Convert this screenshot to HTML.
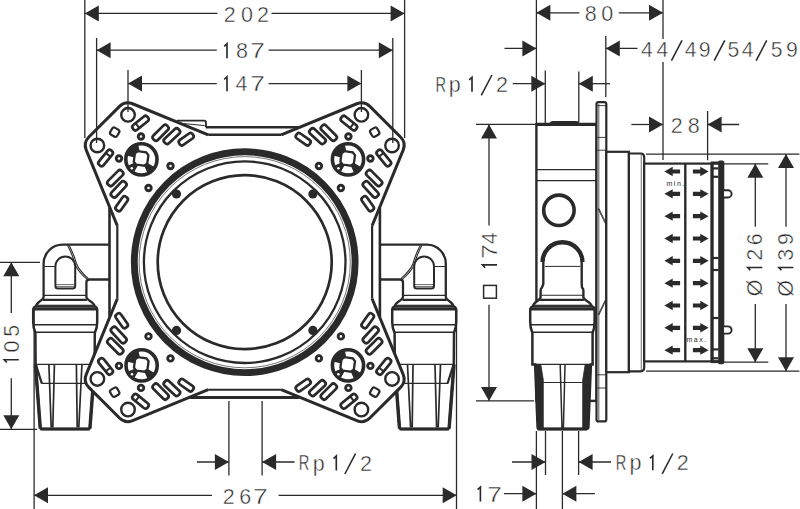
<!DOCTYPE html>
<html><head><meta charset="utf-8"><style>
html,body{margin:0;padding:0;background:#fff;width:800px;height:509px;overflow:hidden}
svg{display:block}
text{font-family:"Liberation Sans",sans-serif}
</style></head><body>
<svg width="800" height="509" viewBox="0 0 800 509" font-family="Liberation Sans, sans-serif" fill="#222">
<rect width="800" height="509" fill="#fff"/>
<g transform=""><path d="M110 244.7 H62.5 A19 19 0 0 0 43.6 263.6 V297 C43.6 300.5 36.5 301.5 36 306.2 L35.6 308.8 H95 L94.6 306.2 C94 301.5 86.4 300.5 86.4 297 V282.5 Q86.4 279.5 89.4 279.5 H110" fill="#fff" stroke="#2a2a2a" stroke-width="2.3"/><path d="M55.4 286 V266.4 A9.9 9.9 0 0 1 75.2 266.4 V286 Q75.2 288.6 72.6 288.6 H58 Q55.4 288.6 55.4 286 Z" fill="#fff" stroke="#2a2a2a" stroke-width="2"/><path d="M56 284.6 H74.6 M56 286.6 H74.6" stroke="#2a2a2a" stroke-width="0.7"/><line x1="44.5" y1="266.5" x2="55.4" y2="266.5" stroke="#2a2a2a" stroke-width="1"/><path d="M67.6 245.4 C71 252 73.5 258 74.8 263.6 C77 270 82 275 87.4 279.6" stroke="#2a2a2a" stroke-width="1.1" fill="none"/><path d="M69.2 245.4 C72.6 252 75 258 76.3 263.2 C78.5 269 83 273.8 88.4 278.6" stroke="#2a2a2a" stroke-width="1.1" fill="none"/><line x1="43.7" y1="295.4" x2="85.9" y2="295.4" stroke="#2a2a2a" stroke-width="1.1"/></g><g transform="translate(0 0)"><path d="M35.4 306.6 Q33.2 307.2 33.2 310.2 V322 Q33.2 328 35.4 333 L35.6 364.4 L40.2 427.4 Q40.4 429 42.4 429 H87.8 Q89.8 429 90 427.4 L94.6 364.4 L94.8 333 Q97.2 328 97.2 322 V310.2 Q97.2 307.2 95 306.6 Z" fill="#fff" stroke="#2a2a2a" stroke-width="2.5"/><line x1="42.7" y1="299.8" x2="86.9" y2="299.8" stroke="#2a2a2a" stroke-width="2.2"/><line x1="37" y1="305.2" x2="93" y2="305.2" stroke="#2a2a2a" stroke-width="1"/><line x1="33.6" y1="309.2" x2="96.8" y2="309.2" stroke="#2a2a2a" stroke-width="2.8"/><line x1="33.5" y1="324.8" x2="96.9" y2="324.8" stroke="#2a2a2a" stroke-width="1.6"/><line x1="35" y1="332.2" x2="95.2" y2="332.2" stroke="#2a2a2a" stroke-width="1.6"/><line x1="35.4" y1="364.4" x2="94.8" y2="364.4" stroke="#2a2a2a" stroke-width="1.3"/><path d="M35.4 364.4 L40.3 428.5" stroke="#2a2a2a" stroke-width="3.4" fill="none"/><path d="M94.8 364.4 L89.9 428.5" stroke="#2a2a2a" stroke-width="3.4" fill="none"/><path d="M35.8 364.4 L41.8 383.3 M94.4 364.4 L88.4 383.3" stroke="#2a2a2a" stroke-width="2.2" fill="none"/><line x1="41.4" y1="383.3" x2="88" y2="383.3" stroke="#2a2a2a" stroke-width="1.2"/><path d="M48.9 365 L51.2 427.5 M54.4 365 L52.8 427.5" stroke="#2a2a2a" stroke-width="1.7" fill="none"/><path d="M76.4 365 L77.2 427.5 M81.9 365 L78.8 427.5" stroke="#2a2a2a" stroke-width="1.7" fill="none"/><line x1="40.4" y1="429" x2="89.8" y2="429" stroke="#2a2a2a" stroke-width="2.8"/></g>
<g transform="translate(489.4 0) scale(-1 1)"><path d="M110 244.7 H62.5 A19 19 0 0 0 43.6 263.6 V297 C43.6 300.5 36.5 301.5 36 306.2 L35.6 308.8 H95 L94.6 306.2 C94 301.5 86.4 300.5 86.4 297 V282.5 Q86.4 279.5 89.4 279.5 H110" fill="#fff" stroke="#2a2a2a" stroke-width="2.3"/><path d="M55.4 286 V266.4 A9.9 9.9 0 0 1 75.2 266.4 V286 Q75.2 288.6 72.6 288.6 H58 Q55.4 288.6 55.4 286 Z" fill="#fff" stroke="#2a2a2a" stroke-width="2"/><path d="M56 284.6 H74.6 M56 286.6 H74.6" stroke="#2a2a2a" stroke-width="0.7"/><line x1="44.5" y1="266.5" x2="55.4" y2="266.5" stroke="#2a2a2a" stroke-width="1"/><path d="M67.6 245.4 C71 252 73.5 258 74.8 263.6 C77 270 82 275 87.4 279.6" stroke="#2a2a2a" stroke-width="1.1" fill="none"/><path d="M69.2 245.4 C72.6 252 75 258 76.3 263.2 C78.5 269 83 273.8 88.4 278.6" stroke="#2a2a2a" stroke-width="1.1" fill="none"/><line x1="43.7" y1="295.4" x2="85.9" y2="295.4" stroke="#2a2a2a" stroke-width="1.1"/></g><g transform="translate(489.4 0) scale(-1 1)"><path d="M35.4 306.6 Q33.2 307.2 33.2 310.2 V322 Q33.2 328 35.4 333 L35.6 364.4 L40.2 427.4 Q40.4 429 42.4 429 H87.8 Q89.8 429 90 427.4 L94.6 364.4 L94.8 333 Q97.2 328 97.2 322 V310.2 Q97.2 307.2 95 306.6 Z" fill="#fff" stroke="#2a2a2a" stroke-width="2.5"/><line x1="42.7" y1="299.8" x2="86.9" y2="299.8" stroke="#2a2a2a" stroke-width="2.2"/><line x1="37" y1="305.2" x2="93" y2="305.2" stroke="#2a2a2a" stroke-width="1"/><line x1="33.6" y1="309.2" x2="96.8" y2="309.2" stroke="#2a2a2a" stroke-width="2.8"/><line x1="33.5" y1="324.8" x2="96.9" y2="324.8" stroke="#2a2a2a" stroke-width="1.6"/><line x1="35" y1="332.2" x2="95.2" y2="332.2" stroke="#2a2a2a" stroke-width="1.6"/><line x1="35.4" y1="364.4" x2="94.8" y2="364.4" stroke="#2a2a2a" stroke-width="1.3"/><path d="M35.4 364.4 L40.3 428.5" stroke="#2a2a2a" stroke-width="3.4" fill="none"/><path d="M94.8 364.4 L89.9 428.5" stroke="#2a2a2a" stroke-width="3.4" fill="none"/><path d="M35.8 364.4 L41.8 383.3 M94.4 364.4 L88.4 383.3" stroke="#2a2a2a" stroke-width="2.2" fill="none"/><line x1="41.4" y1="383.3" x2="88" y2="383.3" stroke="#2a2a2a" stroke-width="1.2"/><path d="M48.9 365 L51.2 427.5 M54.4 365 L52.8 427.5" stroke="#2a2a2a" stroke-width="1.7" fill="none"/><path d="M76.4 365 L77.2 427.5 M81.9 365 L78.8 427.5" stroke="#2a2a2a" stroke-width="1.7" fill="none"/><line x1="40.4" y1="429" x2="89.8" y2="429" stroke="#2a2a2a" stroke-width="2.8"/></g>
<path d="M244.7 134.8 L208.2 134.8 L132.56 103.75 A12 12 0 0 0 119.51 106.36 L88.86 137.01 A12 12 0 0 0 86.25 150.06 L117.3 225.7 L117.3 262.2 L117.3 298.7 L86.25 374.34 A12 12 0 0 0 88.86 387.39 L119.51 418.04 A12 12 0 0 0 132.56 420.65 L208.2 389.6 L244.7 389.6 L281.2 389.6 L356.84 420.65 A12 12 0 0 0 369.89 418.04 L400.54 387.39 A12 12 0 0 0 403.15 374.34 L372.1 298.7 L372.1 262.2 L372.1 225.7 L403.15 150.06 A12 12 0 0 0 400.54 137.01 L369.89 106.36 A12 12 0 0 0 356.84 103.75 L281.2 134.8 L244.7 134.8 Z" fill="#fff" stroke="none"/>
<g transform="translate(244.7 262.2)"><path d="M-36.5 -127.4 L-112.14 -158.45 A12 12 0 0 0 -125.19 -155.84 L-155.84 -125.19 A12 12 0 0 0 -158.45 -112.14 L-127.4 -36.5" stroke="#2a2a2a" stroke-width="3" fill="none" stroke-linejoin="round"/><circle cx="-116.7" cy="-147.35" r="6.8" fill="none" stroke="#2a2a2a" stroke-width="2.4"/><circle cx="-147.35" cy="-116.7" r="6.8" fill="none" stroke="#2a2a2a" stroke-width="2.4"/><circle cx="-103.7" cy="-125.7" r="2.75" fill="none" stroke="#2a2a2a" stroke-width="2.9"/><circle cx="-125.7" cy="-103.7" r="2.75" fill="none" stroke="#2a2a2a" stroke-width="2.9"/><circle cx="-74.2" cy="-96.2" r="2.75" fill="none" stroke="#2a2a2a" stroke-width="2.9"/><circle cx="-96.2" cy="-74.2" r="2.75" fill="none" stroke="#2a2a2a" stroke-width="2.9"/><rect x="-134" y="-134" width="8" height="8" rx="2.2" transform="rotate(30 -130 -130)" fill="none" stroke="#2a2a2a" stroke-width="2.2"/><rect x="-113.6" y="-142.15" width="18.8" height="6.1" rx="2.6" transform="rotate(-39 -104.2 -139.1)" fill="none" stroke="#2a2a2a" stroke-width="2.7"/><rect x="-148.5" y="-107.25" width="18.8" height="6.1" rx="2.6" transform="rotate(129 -139.1 -104.2)" fill="none" stroke="#2a2a2a" stroke-width="2.7"/><rect x="-93.75" y="-132.55" width="19.3" height="6.3" rx="2.6" transform="rotate(-45 -84.1 -129.4)" fill="none" stroke="#2a2a2a" stroke-width="2.7"/><rect x="-139.05" y="-87.25" width="19.3" height="6.3" rx="2.6" transform="rotate(135 -129.4 -84.1)" fill="none" stroke="#2a2a2a" stroke-width="2.7"/><rect x="-82.45" y="-129.15" width="19.3" height="6.3" rx="2.6" transform="rotate(-43 -72.8 -126)" fill="none" stroke="#2a2a2a" stroke-width="2.7"/><rect x="-135.65" y="-75.95" width="19.3" height="6.3" rx="2.6" transform="rotate(133 -126 -72.8)" fill="none" stroke="#2a2a2a" stroke-width="2.7"/><rect x="-66.65" y="-126.05" width="16.3" height="6.1" rx="2.6" transform="rotate(-35 -58.5 -123)" fill="none" stroke="#2a2a2a" stroke-width="2.7"/><rect x="-131.15" y="-61.55" width="16.3" height="6.1" rx="2.6" transform="rotate(125 -123 -58.5)" fill="none" stroke="#2a2a2a" stroke-width="2.7"/><line x1="-108.2" y1="-142.4" x2="-108.2" y2="-135.8" transform="rotate(-38 -104.2 -139.1)" stroke="#2a2a2a" stroke-width="2"/><line x1="-143.1" y1="-107.5" x2="-143.1" y2="-100.9" transform="rotate(128 -139.1 -104.2)" stroke="#2a2a2a" stroke-width="2"/><circle cx="-68.2" cy="-68.2" r="4.6" fill="#2a2a2a"/></g>
<g transform="translate(244.7 262.2) scale(-1 1)"><path d="M-36.5 -127.4 L-112.14 -158.45 A12 12 0 0 0 -125.19 -155.84 L-155.84 -125.19 A12 12 0 0 0 -158.45 -112.14 L-127.4 -36.5" stroke="#2a2a2a" stroke-width="3" fill="none" stroke-linejoin="round"/><circle cx="-116.7" cy="-147.35" r="6.8" fill="none" stroke="#2a2a2a" stroke-width="2.4"/><circle cx="-147.35" cy="-116.7" r="6.8" fill="none" stroke="#2a2a2a" stroke-width="2.4"/><circle cx="-103.7" cy="-125.7" r="2.75" fill="none" stroke="#2a2a2a" stroke-width="2.9"/><circle cx="-125.7" cy="-103.7" r="2.75" fill="none" stroke="#2a2a2a" stroke-width="2.9"/><circle cx="-74.2" cy="-96.2" r="2.75" fill="none" stroke="#2a2a2a" stroke-width="2.9"/><circle cx="-96.2" cy="-74.2" r="2.75" fill="none" stroke="#2a2a2a" stroke-width="2.9"/><rect x="-134" y="-134" width="8" height="8" rx="2.2" transform="rotate(30 -130 -130)" fill="none" stroke="#2a2a2a" stroke-width="2.2"/><rect x="-113.6" y="-142.15" width="18.8" height="6.1" rx="2.6" transform="rotate(-39 -104.2 -139.1)" fill="none" stroke="#2a2a2a" stroke-width="2.7"/><rect x="-148.5" y="-107.25" width="18.8" height="6.1" rx="2.6" transform="rotate(129 -139.1 -104.2)" fill="none" stroke="#2a2a2a" stroke-width="2.7"/><rect x="-93.75" y="-132.55" width="19.3" height="6.3" rx="2.6" transform="rotate(-45 -84.1 -129.4)" fill="none" stroke="#2a2a2a" stroke-width="2.7"/><rect x="-139.05" y="-87.25" width="19.3" height="6.3" rx="2.6" transform="rotate(135 -129.4 -84.1)" fill="none" stroke="#2a2a2a" stroke-width="2.7"/><rect x="-82.45" y="-129.15" width="19.3" height="6.3" rx="2.6" transform="rotate(-43 -72.8 -126)" fill="none" stroke="#2a2a2a" stroke-width="2.7"/><rect x="-135.65" y="-75.95" width="19.3" height="6.3" rx="2.6" transform="rotate(133 -126 -72.8)" fill="none" stroke="#2a2a2a" stroke-width="2.7"/><rect x="-66.65" y="-126.05" width="16.3" height="6.1" rx="2.6" transform="rotate(-35 -58.5 -123)" fill="none" stroke="#2a2a2a" stroke-width="2.7"/><rect x="-131.15" y="-61.55" width="16.3" height="6.1" rx="2.6" transform="rotate(125 -123 -58.5)" fill="none" stroke="#2a2a2a" stroke-width="2.7"/><line x1="-108.2" y1="-142.4" x2="-108.2" y2="-135.8" transform="rotate(-38 -104.2 -139.1)" stroke="#2a2a2a" stroke-width="2"/><line x1="-143.1" y1="-107.5" x2="-143.1" y2="-100.9" transform="rotate(128 -139.1 -104.2)" stroke="#2a2a2a" stroke-width="2"/><circle cx="-68.2" cy="-68.2" r="4.6" fill="#2a2a2a"/></g>
<g transform="translate(244.7 262.2) scale(1 -1)"><path d="M-36.5 -127.4 L-112.14 -158.45 A12 12 0 0 0 -125.19 -155.84 L-155.84 -125.19 A12 12 0 0 0 -158.45 -112.14 L-127.4 -36.5" stroke="#2a2a2a" stroke-width="3" fill="none" stroke-linejoin="round"/><circle cx="-116.7" cy="-147.35" r="6.8" fill="none" stroke="#2a2a2a" stroke-width="2.4"/><circle cx="-147.35" cy="-116.7" r="6.8" fill="none" stroke="#2a2a2a" stroke-width="2.4"/><circle cx="-103.7" cy="-125.7" r="2.75" fill="none" stroke="#2a2a2a" stroke-width="2.9"/><circle cx="-125.7" cy="-103.7" r="2.75" fill="none" stroke="#2a2a2a" stroke-width="2.9"/><circle cx="-74.2" cy="-96.2" r="2.75" fill="none" stroke="#2a2a2a" stroke-width="2.9"/><circle cx="-96.2" cy="-74.2" r="2.75" fill="none" stroke="#2a2a2a" stroke-width="2.9"/><rect x="-134" y="-134" width="8" height="8" rx="2.2" transform="rotate(30 -130 -130)" fill="none" stroke="#2a2a2a" stroke-width="2.2"/><rect x="-113.6" y="-142.15" width="18.8" height="6.1" rx="2.6" transform="rotate(-39 -104.2 -139.1)" fill="none" stroke="#2a2a2a" stroke-width="2.7"/><rect x="-148.5" y="-107.25" width="18.8" height="6.1" rx="2.6" transform="rotate(129 -139.1 -104.2)" fill="none" stroke="#2a2a2a" stroke-width="2.7"/><rect x="-93.75" y="-132.55" width="19.3" height="6.3" rx="2.6" transform="rotate(-45 -84.1 -129.4)" fill="none" stroke="#2a2a2a" stroke-width="2.7"/><rect x="-139.05" y="-87.25" width="19.3" height="6.3" rx="2.6" transform="rotate(135 -129.4 -84.1)" fill="none" stroke="#2a2a2a" stroke-width="2.7"/><rect x="-82.45" y="-129.15" width="19.3" height="6.3" rx="2.6" transform="rotate(-43 -72.8 -126)" fill="none" stroke="#2a2a2a" stroke-width="2.7"/><rect x="-135.65" y="-75.95" width="19.3" height="6.3" rx="2.6" transform="rotate(133 -126 -72.8)" fill="none" stroke="#2a2a2a" stroke-width="2.7"/><rect x="-66.65" y="-126.05" width="16.3" height="6.1" rx="2.6" transform="rotate(-35 -58.5 -123)" fill="none" stroke="#2a2a2a" stroke-width="2.7"/><rect x="-131.15" y="-61.55" width="16.3" height="6.1" rx="2.6" transform="rotate(125 -123 -58.5)" fill="none" stroke="#2a2a2a" stroke-width="2.7"/><line x1="-108.2" y1="-142.4" x2="-108.2" y2="-135.8" transform="rotate(-38 -104.2 -139.1)" stroke="#2a2a2a" stroke-width="2"/><line x1="-143.1" y1="-107.5" x2="-143.1" y2="-100.9" transform="rotate(128 -139.1 -104.2)" stroke="#2a2a2a" stroke-width="2"/><circle cx="-68.2" cy="-68.2" r="4.6" fill="#2a2a2a"/></g>
<g transform="translate(244.7 262.2) scale(-1 -1)"><path d="M-36.5 -127.4 L-112.14 -158.45 A12 12 0 0 0 -125.19 -155.84 L-155.84 -125.19 A12 12 0 0 0 -158.45 -112.14 L-127.4 -36.5" stroke="#2a2a2a" stroke-width="3" fill="none" stroke-linejoin="round"/><circle cx="-116.7" cy="-147.35" r="6.8" fill="none" stroke="#2a2a2a" stroke-width="2.4"/><circle cx="-147.35" cy="-116.7" r="6.8" fill="none" stroke="#2a2a2a" stroke-width="2.4"/><circle cx="-103.7" cy="-125.7" r="2.75" fill="none" stroke="#2a2a2a" stroke-width="2.9"/><circle cx="-125.7" cy="-103.7" r="2.75" fill="none" stroke="#2a2a2a" stroke-width="2.9"/><circle cx="-74.2" cy="-96.2" r="2.75" fill="none" stroke="#2a2a2a" stroke-width="2.9"/><circle cx="-96.2" cy="-74.2" r="2.75" fill="none" stroke="#2a2a2a" stroke-width="2.9"/><rect x="-134" y="-134" width="8" height="8" rx="2.2" transform="rotate(30 -130 -130)" fill="none" stroke="#2a2a2a" stroke-width="2.2"/><rect x="-113.6" y="-142.15" width="18.8" height="6.1" rx="2.6" transform="rotate(-39 -104.2 -139.1)" fill="none" stroke="#2a2a2a" stroke-width="2.7"/><rect x="-148.5" y="-107.25" width="18.8" height="6.1" rx="2.6" transform="rotate(129 -139.1 -104.2)" fill="none" stroke="#2a2a2a" stroke-width="2.7"/><rect x="-93.75" y="-132.55" width="19.3" height="6.3" rx="2.6" transform="rotate(-45 -84.1 -129.4)" fill="none" stroke="#2a2a2a" stroke-width="2.7"/><rect x="-139.05" y="-87.25" width="19.3" height="6.3" rx="2.6" transform="rotate(135 -129.4 -84.1)" fill="none" stroke="#2a2a2a" stroke-width="2.7"/><rect x="-82.45" y="-129.15" width="19.3" height="6.3" rx="2.6" transform="rotate(-43 -72.8 -126)" fill="none" stroke="#2a2a2a" stroke-width="2.7"/><rect x="-135.65" y="-75.95" width="19.3" height="6.3" rx="2.6" transform="rotate(133 -126 -72.8)" fill="none" stroke="#2a2a2a" stroke-width="2.7"/><rect x="-66.65" y="-126.05" width="16.3" height="6.1" rx="2.6" transform="rotate(-35 -58.5 -123)" fill="none" stroke="#2a2a2a" stroke-width="2.7"/><rect x="-131.15" y="-61.55" width="16.3" height="6.1" rx="2.6" transform="rotate(125 -123 -58.5)" fill="none" stroke="#2a2a2a" stroke-width="2.7"/><line x1="-108.2" y1="-142.4" x2="-108.2" y2="-135.8" transform="rotate(-38 -104.2 -139.1)" stroke="#2a2a2a" stroke-width="2"/><line x1="-143.1" y1="-107.5" x2="-143.1" y2="-100.9" transform="rotate(128 -139.1 -104.2)" stroke="#2a2a2a" stroke-width="2"/><circle cx="-68.2" cy="-68.2" r="4.6" fill="#2a2a2a"/></g>
<line x1="208.2" y1="134.8" x2="281.2" y2="134.8" stroke="#2a2a2a" stroke-width="2.4"/>
<line x1="208.2" y1="389.7" x2="281.2" y2="389.7" stroke="#2a2a2a" stroke-width="2"/>
<line x1="117.3" y1="225.7" x2="117.3" y2="298.7" stroke="#2a2a2a" stroke-width="2.2"/>
<line x1="372.1" y1="225.7" x2="372.1" y2="298.7" stroke="#2a2a2a" stroke-width="2.2"/>
<line x1="205.9" y1="127.3" x2="299.2" y2="127.3" stroke="#2a2a2a" stroke-width="2.5"/>
<line x1="190.2" y1="397.5" x2="299.2" y2="397.5" stroke="#2a2a2a" stroke-width="2.9"/>
<line x1="109.5" y1="207.7" x2="109.5" y2="316.7" stroke="#2a2a2a" stroke-width="2.6"/>
<line x1="379.9" y1="207.7" x2="379.9" y2="316.7" stroke="#2a2a2a" stroke-width="2.6"/>
<path d="M177 120.6 H204.3 Q205.9 120.6 205.9 122.4 V127.3" stroke="#2a2a2a" stroke-width="1.9" fill="none"/>
<path d="M184 123.6 L204.6 125.6" stroke="#2a2a2a" stroke-width="1" fill="none"/>
<g transform="translate(141.4 159.4)"><circle cx="0" cy="0" r="15.6" fill="#fff" stroke="#2a2a2a" stroke-width="3.6"/><path d="M-14.01 -3.75 A14.5 14.5 0 0 1 -3.01 -14.18 L-1.04 -4.89 A5 5 0 0 0 -4.83 -1.29 Z" fill="#2a2a2a"/><path d="M-7.25 12.56 A14.5 14.5 0 0 1 -13.14 6.13 L-4.53 2.11 A5 5 0 0 0 -2.5 4.33 Z" fill="#2a2a2a"/><path d="M12.56 7.25 A14.5 14.5 0 0 1 5.9 13.25 L2.03 4.57 A5 5 0 0 0 4.33 2.5 Z" fill="#2a2a2a"/><g transform="translate(-0.3 -1) rotate(8)"><path d="M-6.8 -4.2 L-4.2 -6.8 H4.2 L6.8 -4.2 V4.2 L4.2 6.8 H-4.2 L-6.8 4.2 Z" fill="#fff" stroke="#2a2a2a" stroke-width="2.3"/></g><circle cx="-9.6" cy="8.8" r="1.3" fill="#fff"/></g>
<g transform="translate(348 159.4)"><circle cx="0" cy="0" r="15.6" fill="#fff" stroke="#2a2a2a" stroke-width="3.6"/><path d="M-14.01 -3.75 A14.5 14.5 0 0 1 -3.01 -14.18 L-1.04 -4.89 A5 5 0 0 0 -4.83 -1.29 Z" fill="#2a2a2a"/><path d="M-7.25 12.56 A14.5 14.5 0 0 1 -13.14 6.13 L-4.53 2.11 A5 5 0 0 0 -2.5 4.33 Z" fill="#2a2a2a"/><path d="M12.56 7.25 A14.5 14.5 0 0 1 5.9 13.25 L2.03 4.57 A5 5 0 0 0 4.33 2.5 Z" fill="#2a2a2a"/><g transform="translate(-0.3 -1) rotate(8)"><path d="M-6.8 -4.2 L-4.2 -6.8 H4.2 L6.8 -4.2 V4.2 L4.2 6.8 H-4.2 L-6.8 4.2 Z" fill="#fff" stroke="#2a2a2a" stroke-width="2.3"/></g><circle cx="-9.6" cy="8.8" r="1.3" fill="#fff"/></g>
<g transform="translate(141.6 365.4)"><circle cx="0" cy="0" r="15.6" fill="#fff" stroke="#2a2a2a" stroke-width="3.6"/><path d="M-14.01 -3.75 A14.5 14.5 0 0 1 -3.01 -14.18 L-1.04 -4.89 A5 5 0 0 0 -4.83 -1.29 Z" fill="#2a2a2a"/><path d="M-7.25 12.56 A14.5 14.5 0 0 1 -13.14 6.13 L-4.53 2.11 A5 5 0 0 0 -2.5 4.33 Z" fill="#2a2a2a"/><path d="M12.56 7.25 A14.5 14.5 0 0 1 5.9 13.25 L2.03 4.57 A5 5 0 0 0 4.33 2.5 Z" fill="#2a2a2a"/><g transform="translate(-0.3 -1) rotate(8)"><path d="M-6.8 -4.2 L-4.2 -6.8 H4.2 L6.8 -4.2 V4.2 L4.2 6.8 H-4.2 L-6.8 4.2 Z" fill="#fff" stroke="#2a2a2a" stroke-width="2.3"/></g><circle cx="-9.6" cy="8.8" r="1.3" fill="#fff"/></g>
<g transform="translate(348 365.4)"><circle cx="0" cy="0" r="15.6" fill="#fff" stroke="#2a2a2a" stroke-width="3.6"/><path d="M-14.01 -3.75 A14.5 14.5 0 0 1 -3.01 -14.18 L-1.04 -4.89 A5 5 0 0 0 -4.83 -1.29 Z" fill="#2a2a2a"/><path d="M-7.25 12.56 A14.5 14.5 0 0 1 -13.14 6.13 L-4.53 2.11 A5 5 0 0 0 -2.5 4.33 Z" fill="#2a2a2a"/><path d="M12.56 7.25 A14.5 14.5 0 0 1 5.9 13.25 L2.03 4.57 A5 5 0 0 0 4.33 2.5 Z" fill="#2a2a2a"/><g transform="translate(-0.3 -1) rotate(8)"><path d="M-6.8 -4.2 L-4.2 -6.8 H4.2 L6.8 -4.2 V4.2 L4.2 6.8 H-4.2 L-6.8 4.2 Z" fill="#fff" stroke="#2a2a2a" stroke-width="2.3"/></g><circle cx="-9.6" cy="8.8" r="1.3" fill="#fff"/></g>
<circle cx="244.7" cy="262.2" r="110.4" fill="none" stroke="#2a2a2a" stroke-width="6.9"/>
<circle cx="244.7" cy="262.2" r="105.6" fill="none" stroke="#666" stroke-width="0.9"/>
<circle cx="244.7" cy="262.2" r="100.8" fill="none" stroke="#2a2a2a" stroke-width="2.3"/>
<circle cx="244.7" cy="262.2" r="87" fill="#fff" stroke="#2a2a2a" stroke-width="2.7"/>
<rect x="536.4" y="124.2" width="60.1" height="276.7" fill="#fff" stroke="#2a2a2a" stroke-width="2.4"/>
<line x1="536.4" y1="124.4" x2="596.5" y2="124.4" stroke="#2a2a2a" stroke-width="3.2"/>
<path d="M549 124 Q550 121 553 121 H576 Q579 121 580 124 Z" fill="#2a2a2a"/>
<line x1="536.4" y1="169.6" x2="596.5" y2="169.6" stroke="#2a2a2a" stroke-width="1.1"/>
<line x1="536.4" y1="180.6" x2="596.5" y2="180.6" stroke="#2a2a2a" stroke-width="1.1"/>
<circle cx="558.9" cy="210.3" r="15.2" fill="none" stroke="#2a2a2a" stroke-width="3.6"/>
<rect x="596.5" y="102.1" width="9.8" height="319.3" rx="2" fill="#fff" stroke="#2a2a2a" stroke-width="2.2"/>
<path d="M598.8 104 V420" stroke="#2a2a2a" stroke-width="0.8"/>
<line x1="596.5" y1="105.6" x2="606.3" y2="105.6" stroke="#2a2a2a" stroke-width="0.9" />
<line x1="596.5" y1="137.4" x2="606.3" y2="137.4" stroke="#2a2a2a" stroke-width="0.9" />
<line x1="596.5" y1="150.2" x2="606.3" y2="150.2" stroke="#2a2a2a" stroke-width="0.9" />
<line x1="596.5" y1="374.8" x2="606.3" y2="374.8" stroke="#2a2a2a" stroke-width="0.9" />
<line x1="596.5" y1="388" x2="606.3" y2="388" stroke="#2a2a2a" stroke-width="0.9" />
<path d="M598 208.5 L605.6 224 M598.9 208.5 L605.6 222.4 M598 315 L605.6 299.5 M598.9 315 L605.6 301.1" stroke="#2a2a2a" stroke-width="0.9" fill="none"/>
<rect x="606.3" y="151.8" width="22.6" height="220.4" fill="#fff" stroke="#2a2a2a" stroke-width="2.2"/>
<path d="M628.9 153.5 H640.5 Q644.2 153.5 644.2 157.2 V367.6 Q644.2 371.3 640.5 371.3 H628.9 Z" fill="#fff" stroke="#2a2a2a" stroke-width="2.2"/>
<line x1="641.3" y1="155" x2="641.3" y2="370" stroke="#888" stroke-width="1.2"/>
<rect x="644.2" y="163.6" width="67.4" height="197.8" fill="#fff" stroke="#2a2a2a" stroke-width="2.2"/>
<line x1="685.3" y1="163.6" x2="685.3" y2="361.4" stroke="#2a2a2a" stroke-width="2.4"/>
<rect x="712.2" y="163" width="10.6" height="198.6" fill="#fff" stroke="#2a2a2a" stroke-width="3"/>
<rect x="718.2" y="160.4" width="5.8" height="203.8" rx="1.5" fill="#2a2a2a"/>
<line x1="712" y1="168.4" x2="718.4" y2="168.4" stroke="#2a2a2a" stroke-width="2.2" />
<line x1="712" y1="176.8" x2="718.4" y2="176.8" stroke="#2a2a2a" stroke-width="2.2" />
<line x1="712" y1="258" x2="718.4" y2="258" stroke="#2a2a2a" stroke-width="2.2" />
<line x1="712" y1="270" x2="718.4" y2="270" stroke="#2a2a2a" stroke-width="2.2" />
<line x1="712" y1="318" x2="718.4" y2="318" stroke="#2a2a2a" stroke-width="2.2" />
<line x1="712" y1="349.4" x2="718.4" y2="349.4" stroke="#2a2a2a" stroke-width="2.2" />
<line x1="712" y1="358.3" x2="718.4" y2="358.3" stroke="#2a2a2a" stroke-width="2.2" />
<path d="M724 190.3 H728 A3.6 3.6 0 0 1 728 197.5 H724" fill="#fff" stroke="#2a2a2a" stroke-width="1.9"/>
<path d="M724 326.4 H728 A3.6 3.6 0 0 1 728 333.59999999999997 H724" fill="#fff" stroke="#2a2a2a" stroke-width="1.9"/>
<polygon points="664.4,171.5 672.7,166.8 672.7,169.4 680.1,169.4 680.1,173.6 672.7,173.6 672.7,176.2" fill="#2a2a2a"/>
<polygon points="708.6,171.5 700.3,166.8 700.3,169.4 692.9,169.4 692.9,173.6 700.3,173.6 700.3,176.2" fill="#2a2a2a"/>
<polygon points="664.4,193.83 672.7,189.13 672.7,191.73 680.1,191.73 680.1,195.93 672.7,195.93 672.7,198.53" fill="#2a2a2a"/>
<polygon points="708.6,193.83 700.3,189.13 700.3,191.73 692.9,191.73 692.9,195.93 700.3,195.93 700.3,198.53" fill="#2a2a2a"/>
<polygon points="664.4,216.16 672.7,211.46 672.7,214.06 680.1,214.06 680.1,218.26 672.7,218.26 672.7,220.86" fill="#2a2a2a"/>
<polygon points="708.6,216.16 700.3,211.46 700.3,214.06 692.9,214.06 692.9,218.26 700.3,218.26 700.3,220.86" fill="#2a2a2a"/>
<polygon points="664.4,238.49 672.7,233.79 672.7,236.39 680.1,236.39 680.1,240.59 672.7,240.59 672.7,243.19" fill="#2a2a2a"/>
<polygon points="708.6,238.49 700.3,233.79 700.3,236.39 692.9,236.39 692.9,240.59 700.3,240.59 700.3,243.19" fill="#2a2a2a"/>
<polygon points="664.4,260.82 672.7,256.12 672.7,258.72 680.1,258.72 680.1,262.92 672.7,262.92 672.7,265.52" fill="#2a2a2a"/>
<polygon points="708.6,260.82 700.3,256.12 700.3,258.72 692.9,258.72 692.9,262.92 700.3,262.92 700.3,265.52" fill="#2a2a2a"/>
<polygon points="664.4,283.15 672.7,278.45 672.7,281.05 680.1,281.05 680.1,285.25 672.7,285.25 672.7,287.85" fill="#2a2a2a"/>
<polygon points="708.6,283.15 700.3,278.45 700.3,281.05 692.9,281.05 692.9,285.25 700.3,285.25 700.3,287.85" fill="#2a2a2a"/>
<polygon points="664.4,305.48 672.7,300.78 672.7,303.38 680.1,303.38 680.1,307.58 672.7,307.58 672.7,310.18" fill="#2a2a2a"/>
<polygon points="708.6,305.48 700.3,300.78 700.3,303.38 692.9,303.38 692.9,307.58 700.3,307.58 700.3,310.18" fill="#2a2a2a"/>
<polygon points="664.4,327.81 672.7,323.11 672.7,325.71 680.1,325.71 680.1,329.91 672.7,329.91 672.7,332.51" fill="#2a2a2a"/>
<polygon points="708.6,327.81 700.3,323.11 700.3,325.71 692.9,325.71 692.9,329.91 700.3,329.91 700.3,332.51" fill="#2a2a2a"/>
<polygon points="664.4,350.14 672.7,345.44 672.7,348.04 680.1,348.04 680.1,352.24 672.7,352.24 672.7,354.84" fill="#2a2a2a"/>
<polygon points="708.6,350.14 700.3,345.44 700.3,348.04 692.9,348.04 692.9,352.24 700.3,352.24 700.3,354.84" fill="#2a2a2a"/>
<text x="666.5" y="185.5" font-size="7" letter-spacing="1.5" fill="#2a2a2a">min.</text>
<text x="686.5" y="341.8" font-size="7" letter-spacing="1.5" fill="#2a2a2a">max.</text>
<g transform="translate(497 0)"><path d="M43.6 297 C43.6 300.5 36.5 301.5 36 306.2 L35.6 308.8 H95 L94.6 306.2 C94 301.5 86.4 300.5 86.4 297 V290.5 Q86.4 288.5 85 287.5 L84.7 284 V262.5 A19.2 19.2 0 0 0 46.3 262.5 V284 L45 287.5 Q43.6 288.5 43.6 290.5 Z" fill="#fff" stroke="#2a2a2a" stroke-width="2.4"/></g>
<path d="M542.4 262 A20.1 20.1 0 0 1 582.6 262" fill="none" stroke="#2a2a2a" stroke-width="4"/>
<line x1="545" y1="266.4" x2="580.5" y2="266.4" stroke="#2a2a2a" stroke-width="1"/>
<line x1="541" y1="295.2" x2="584" y2="295.2" stroke="#2a2a2a" stroke-width="1.1"/>
<g transform="translate(497 0)"><path d="M35.4 306.6 Q33.2 307.2 33.2 310.2 V322 Q33.2 328 35.4 333 L35.4 364.4 H38.1 L40.6 427.4 Q40.8 429 42.8 429 H89.2 Q91.2 429 91.4 427.4 L93.9 364.4 H95.6 L95.6 333 Q97.6 328 97.6 322 V310.2 Q97.6 307.2 95.4 306.6 Z" fill="#fff" stroke="#2a2a2a" stroke-width="2.5"/><line x1="42.7" y1="299.8" x2="86.9" y2="299.8" stroke="#2a2a2a" stroke-width="2.2"/><line x1="37" y1="305.2" x2="93" y2="305.2" stroke="#2a2a2a" stroke-width="1"/><line x1="33.6" y1="309.2" x2="96.8" y2="309.2" stroke="#2a2a2a" stroke-width="2.8"/><line x1="33.5" y1="324.8" x2="96.9" y2="324.8" stroke="#2a2a2a" stroke-width="1.6"/><line x1="35" y1="332.2" x2="95.2" y2="332.2" stroke="#2a2a2a" stroke-width="1.6"/><line x1="35.4" y1="364.4" x2="94.8" y2="364.4" stroke="#2a2a2a" stroke-width="1.3"/><path d="M38.1 364.4 L43.8 364.4 L46.3 380 L46.3 428.5 L40.6 428.5 Z" fill="#2a2a2a" stroke="#2a2a2a" stroke-width="0.8" stroke-linejoin="round"/><path d="M93.9 364.4 L88.2 364.4 L85.7 380 L85.7 428.5 L91.4 428.5 Z" fill="#2a2a2a" stroke="#2a2a2a" stroke-width="0.8" stroke-linejoin="round"/><line x1="46.3" y1="382.5" x2="85.7" y2="382.5" stroke="#2a2a2a" stroke-width="1.2"/><path d="M63.2 365 L65 428 M68 365 L66.4 428" stroke="#2a2a2a" stroke-width="1.5" fill="none"/><line x1="40.4" y1="429" x2="89.8" y2="429" stroke="#2a2a2a" stroke-width="2.8"/></g>
<line x1="84.8" y1="0" x2="84.8" y2="138" stroke="#2a2a2a" stroke-width="1.3" />
<line x1="404.6" y1="0" x2="404.6" y2="138" stroke="#2a2a2a" stroke-width="1.3" />
<line x1="84.8" y1="13.4" x2="217.5" y2="13.4" stroke="#2a2a2a" stroke-width="1.3" />
<line x1="271.5" y1="13.4" x2="404.6" y2="13.4" stroke="#2a2a2a" stroke-width="1.3" />
<polygon points="84.8,13.4 98.8,5.4 98.8,21.4" fill="#2a2a2a"/>
<polygon points="404.6,13.4 390.6,5.4 390.6,21.4" fill="#2a2a2a"/>
<text x="223.77 241.02 257.02" y="21.6" font-size="21.5" fill="#2a2a2a" stroke="#fff" stroke-width="0.45">202</text>
<line x1="96.6" y1="38" x2="96.6" y2="143" stroke="#2a2a2a" stroke-width="1.3" />
<line x1="392.8" y1="38" x2="392.8" y2="143" stroke="#2a2a2a" stroke-width="1.3" />
<line x1="96.6" y1="50.2" x2="216.8" y2="50.2" stroke="#2a2a2a" stroke-width="1.3" />
<line x1="268.6" y1="50.2" x2="392.8" y2="50.2" stroke="#2a2a2a" stroke-width="1.3" />
<polygon points="96.6,50.2 110.6,42.2 110.6,58.2" fill="#2a2a2a"/>
<polygon points="392.8,50.2 378.8,42.2 378.8,58.2" fill="#2a2a2a"/>
<text x="236.12" y="58.3" font-size="21.5" fill="#2a2a2a" stroke="#fff" stroke-width="0.45">8</text><path d="M227 58.3 V43.76 L224.2 46.36" fill="none" stroke="#2a2a2a" stroke-width="1.65" stroke-linejoin="miter"/><text x="251.46" y="58.3" font-size="21.5" fill="#2a2a2a" stroke="#fff" stroke-width="0.45" transform="matrix(1.22 0 0 1 -56.64 0)">7</text>
<line x1="128" y1="70" x2="128" y2="112" stroke="#2a2a2a" stroke-width="1.3" />
<line x1="361.4" y1="70" x2="361.4" y2="112" stroke="#2a2a2a" stroke-width="1.3" />
<line x1="128" y1="83.6" x2="216.8" y2="83.6" stroke="#2a2a2a" stroke-width="1.3" />
<line x1="268.6" y1="83.6" x2="361.4" y2="83.6" stroke="#2a2a2a" stroke-width="1.3" />
<polygon points="128,83.6 142,75.6 142,91.6" fill="#2a2a2a"/>
<polygon points="361.4,83.6 347.4,75.6 347.4,91.6" fill="#2a2a2a"/>
<text x="235.59" y="91.3" font-size="21.5" fill="#2a2a2a" stroke="#fff" stroke-width="0.45">4</text><path d="M227 91.3 V76.77 L224.2 79.37" fill="none" stroke="#2a2a2a" stroke-width="1.65" stroke-linejoin="miter"/><text x="251.46" y="91.3" font-size="21.5" fill="#2a2a2a" stroke="#fff" stroke-width="0.45" transform="matrix(1.22 0 0 1 -56.64 0)">7</text>
<line x1="0" y1="262.3" x2="40" y2="262.3" stroke="#2a2a2a" stroke-width="1.3" />
<line x1="0" y1="429.3" x2="37" y2="429.3" stroke="#2a2a2a" stroke-width="1.3" />
<line x1="11.3" y1="262.3" x2="11.3" y2="312.9" stroke="#2a2a2a" stroke-width="1.3" />
<line x1="11.3" y1="378.3" x2="11.3" y2="429.3" stroke="#2a2a2a" stroke-width="1.3" />
<polygon points="11.3,262.3 3.3,276.3 19.3,276.3" fill="#2a2a2a"/>
<polygon points="11.3,429.3 3.3,415.3 19.3,415.3" fill="#2a2a2a"/>
<g transform="translate(18.8 400) rotate(-90)"><text x="47.42 63.39" y="0" font-size="21.5" fill="#2a2a2a" stroke="#fff" stroke-width="0.45">05</text><path d="M40.3 0 V-14.53 L37.5 -11.93" fill="none" stroke="#2a2a2a" stroke-width="1.65" stroke-linejoin="miter"/></g>
<line x1="34.1" y1="309" x2="34.1" y2="509" stroke="#2a2a2a" stroke-width="1.3" />
<line x1="456.5" y1="309" x2="456.5" y2="509" stroke="#2a2a2a" stroke-width="1.3" />
<line x1="34" y1="495.3" x2="211.9" y2="495.3" stroke="#2a2a2a" stroke-width="1.3" />
<line x1="278.6" y1="495.3" x2="456.7" y2="495.3" stroke="#2a2a2a" stroke-width="1.3" />
<polygon points="34,495.3 48,487.3 48,503.3" fill="#2a2a2a"/>
<polygon points="456.7,495.3 442.7,487.3 442.7,503.3" fill="#2a2a2a"/>
<text x="222.87 239.25" y="503.6" font-size="21.5" fill="#2a2a2a" stroke="#fff" stroke-width="0.45">26</text><text x="254.36" y="503.6" font-size="21.5" fill="#2a2a2a" stroke="#fff" stroke-width="0.45" transform="matrix(1.22 0 0 1 -57.28 0)">7</text>
<line x1="228.9" y1="401" x2="228.9" y2="475.5" stroke="#2a2a2a" stroke-width="1.3" />
<line x1="262.1" y1="401" x2="262.1" y2="475.5" stroke="#2a2a2a" stroke-width="1.3" />
<line x1="196.9" y1="462" x2="228.9" y2="462" stroke="#2a2a2a" stroke-width="1.3" />
<line x1="262.1" y1="462" x2="294.5" y2="462" stroke="#2a2a2a" stroke-width="1.3" />
<polygon points="228.9,462 214.9,454 214.9,470" fill="#2a2a2a"/>
<polygon points="262.1,462 276.1,454 276.1,470" fill="#2a2a2a"/>
<text x="312.78 359.97" y="470.5" font-size="21.5" fill="#2a2a2a" stroke="#fff" stroke-width="0.45">p2</text><text x="296.2" y="470.5" font-size="21.5" fill="#2a2a2a" stroke="#fff" stroke-width="0.45" transform="matrix(0.68 0 0 1 97.39 0)">R</text><path d="M336.3 470.5 V455.97 L333.5 458.56" fill="none" stroke="#2a2a2a" stroke-width="1.65" stroke-linejoin="miter"/><line x1="344.9" y1="474" x2="355.5" y2="453.7" stroke="#2a2a2a" stroke-width="1.55"/>
<line x1="536.4" y1="0" x2="536.4" y2="124" stroke="#2a2a2a" stroke-width="1.3" />
<line x1="663" y1="0" x2="663" y2="39" stroke="#2a2a2a" stroke-width="1.3" />
<line x1="663" y1="62" x2="663" y2="160" stroke="#2a2a2a" stroke-width="1.3" />
<line x1="536.4" y1="12.8" x2="579.4" y2="12.8" stroke="#2a2a2a" stroke-width="1.3" />
<line x1="618.75" y1="12.8" x2="663" y2="12.8" stroke="#2a2a2a" stroke-width="1.3" />
<polygon points="536.4,12.8 550.4,4.8 550.4,20.8" fill="#2a2a2a"/>
<polygon points="663,12.8 649,4.8 649,20.8" fill="#2a2a2a"/>
<text x="584.77 601.22" y="20.8" font-size="21.5" fill="#2a2a2a" stroke="#fff" stroke-width="0.45">80</text>
<line x1="504.5" y1="48.4" x2="536.4" y2="48.4" stroke="#2a2a2a" stroke-width="1.3" />
<polygon points="536.4,48.4 522.4,40.4 522.4,56.4" fill="#2a2a2a"/>
<line x1="605.8" y1="36" x2="605.8" y2="97" stroke="#2a2a2a" stroke-width="1.3" />
<line x1="605.8" y1="48.4" x2="637.5" y2="48.4" stroke="#2a2a2a" stroke-width="1.3" />
<polygon points="605.8,48.4 619.8,40.4 619.8,56.4" fill="#2a2a2a"/>
<text x="641.12 656.52 684.72 698.71 727.48 741.87 770.78 785.96" y="57.1" font-size="21.2" fill="#2a2a2a" stroke="#fff" stroke-width="0.45">44495459</text><line x1="671.45" y1="60.6" x2="682.05" y2="40.3" stroke="#2a2a2a" stroke-width="1.55"/><line x1="714.2" y1="60.6" x2="724.8" y2="40.3" stroke="#2a2a2a" stroke-width="1.55"/><line x1="756.15" y1="60.6" x2="766.75" y2="40.3" stroke="#2a2a2a" stroke-width="1.55"/>
<line x1="545.3" y1="70.5" x2="545.3" y2="124" stroke="#2a2a2a" stroke-width="1.3" />
<line x1="578.8" y1="71.5" x2="578.8" y2="122" stroke="#2a2a2a" stroke-width="1.3" />
<line x1="512.75" y1="83.7" x2="545.3" y2="83.7" stroke="#2a2a2a" stroke-width="1.3" />
<polygon points="545.3,83.7 531.3,75.7 531.3,91.7" fill="#2a2a2a"/>
<line x1="578.8" y1="83.7" x2="610" y2="83.7" stroke="#2a2a2a" stroke-width="1.3" />
<polygon points="578.8,83.7 592.8,75.7 592.8,91.7" fill="#2a2a2a"/>
<text x="448.78 496.02" y="91.8" font-size="21.5" fill="#2a2a2a" stroke="#fff" stroke-width="0.45">p2</text><text x="433" y="91.8" font-size="21.5" fill="#2a2a2a" stroke="#fff" stroke-width="0.45" transform="matrix(0.68 0 0 1 141.17 0)">R</text><path d="M472 91.8 V77.27 L469.2 79.87" fill="none" stroke="#2a2a2a" stroke-width="1.65" stroke-linejoin="miter"/><line x1="481.3" y1="95.3" x2="491.9" y2="75" stroke="#2a2a2a" stroke-width="1.55"/>
<line x1="476" y1="124.4" x2="536.4" y2="124.4" stroke="#2a2a2a" stroke-width="1.3" />
<line x1="476" y1="400.9" x2="534" y2="400.9" stroke="#2a2a2a" stroke-width="1.3" />
<line x1="489" y1="124.4" x2="489" y2="225.5" stroke="#2a2a2a" stroke-width="1.3" />
<line x1="489" y1="304.8" x2="489" y2="400.9" stroke="#2a2a2a" stroke-width="1.3" />
<polygon points="489,124.4 481,138.4 497,138.4" fill="#2a2a2a"/>
<polygon points="489,400.9 481,386.9 497,386.9" fill="#2a2a2a"/>
<g transform="translate(497 300) rotate(-90)"><text x="55.69" y="0" font-size="21.5" fill="#2a2a2a" stroke="#fff" stroke-width="0.45">4</text><path d="M35.1 0 V-14.53 L32.3 -11.93" fill="none" stroke="#2a2a2a" stroke-width="1.65" stroke-linejoin="miter"/><text x="42.46" y="0" font-size="21.5" fill="#2a2a2a" stroke="#fff" stroke-width="0.45" transform="matrix(1.22 0 0 1 -10.66 0)">7</text></g>
<rect x="483.6" y="285.4" width="12.8" height="12.8" fill="none" stroke="#2a2a2a" stroke-width="1.5"/>
<line x1="631.4" y1="124.5" x2="663" y2="124.5" stroke="#2a2a2a" stroke-width="1.3" />
<polygon points="663,124.5 649,116.5 649,132.5" fill="#2a2a2a"/>
<line x1="707.6" y1="111" x2="707.6" y2="160.2" stroke="#2a2a2a" stroke-width="1.3" />
<line x1="707.6" y1="124.5" x2="739.2" y2="124.5" stroke="#2a2a2a" stroke-width="1.3" />
<polygon points="707.6,124.5 721.6,116.5 721.6,132.5" fill="#2a2a2a"/>
<text x="670.82 687.77" y="132.6" font-size="21.5" fill="#2a2a2a" stroke="#fff" stroke-width="0.45">28</text>
<line x1="646" y1="154.1" x2="799.4" y2="154.1" stroke="#2a2a2a" stroke-width="1.3" />
<line x1="646" y1="371.2" x2="799.4" y2="371.2" stroke="#2a2a2a" stroke-width="1.3" />
<line x1="711.6" y1="163.8" x2="768.3" y2="163.8" stroke="#2a2a2a" stroke-width="1.3" />
<line x1="711.6" y1="362.2" x2="768.3" y2="362.2" stroke="#2a2a2a" stroke-width="1.3" />
<line x1="755.3" y1="163.8" x2="755.3" y2="226.7" stroke="#2a2a2a" stroke-width="1.3" />
<line x1="755.3" y1="304" x2="755.3" y2="362.2" stroke="#2a2a2a" stroke-width="1.3" />
<polygon points="755.3,163.8 747.3,177.8 763.3,177.8" fill="#2a2a2a"/>
<polygon points="755.3,362.2 747.3,348.2 763.3,348.2" fill="#2a2a2a"/>
<g transform="translate(762.3 310) rotate(-90)"><text x="13.78 49.17 64.85" y="0" font-size="21.5" fill="#2a2a2a" stroke="#fff" stroke-width="0.45">Ø26</text><path d="M42.5 0 V-14.53 L39.7 -11.93" fill="none" stroke="#2a2a2a" stroke-width="1.65" stroke-linejoin="miter"/></g>
<line x1="786" y1="154.1" x2="786" y2="226.7" stroke="#2a2a2a" stroke-width="1.3" />
<line x1="786" y1="304" x2="786" y2="371.2" stroke="#2a2a2a" stroke-width="1.3" />
<polygon points="786,154.1 778,168.1 794,168.1" fill="#2a2a2a"/>
<polygon points="786,371.2 778,357.2 794,357.2" fill="#2a2a2a"/>
<g transform="translate(793.4 310) rotate(-90)"><text x="13.38 49.23 64.93" y="0" font-size="21.5" fill="#2a2a2a" stroke="#fff" stroke-width="0.45">Ø39</text><path d="M42.5 0 V-14.53 L39.7 -11.93" fill="none" stroke="#2a2a2a" stroke-width="1.65" stroke-linejoin="miter"/></g>
<line x1="545.5" y1="431" x2="545.5" y2="475" stroke="#2a2a2a" stroke-width="1.3" />
<line x1="578.6" y1="431" x2="578.6" y2="475" stroke="#2a2a2a" stroke-width="1.3" />
<line x1="512" y1="462" x2="545.5" y2="462" stroke="#2a2a2a" stroke-width="1.3" />
<polygon points="545.5,462 531.5,454 531.5,470" fill="#2a2a2a"/>
<line x1="578.6" y1="462" x2="611" y2="462" stroke="#2a2a2a" stroke-width="1.3" />
<polygon points="578.6,462 592.6,454 592.6,470" fill="#2a2a2a"/>
<text x="629.38 676.67" y="470.3" font-size="21.5" fill="#2a2a2a" stroke="#fff" stroke-width="0.45">p2</text><text x="613.1" y="470.3" font-size="21.5" fill="#2a2a2a" stroke="#fff" stroke-width="0.45" transform="matrix(0.68 0 0 1 198.8 0)">R</text><path d="M652.8 470.3 V455.77 L650 458.37" fill="none" stroke="#2a2a2a" stroke-width="1.65" stroke-linejoin="miter"/><line x1="662.2" y1="473.8" x2="672.8" y2="453.5" stroke="#2a2a2a" stroke-width="1.55"/>
<line x1="536.4" y1="431" x2="536.4" y2="509" stroke="#2a2a2a" stroke-width="1.3" />
<line x1="562.4" y1="431" x2="562.4" y2="509" stroke="#2a2a2a" stroke-width="1.3" />
<line x1="503.9" y1="493.7" x2="536.4" y2="493.7" stroke="#2a2a2a" stroke-width="1.3" />
<polygon points="536.4,493.7 522.4,485.7 522.4,501.7" fill="#2a2a2a"/>
<line x1="562.4" y1="493.7" x2="594.9" y2="493.7" stroke="#2a2a2a" stroke-width="1.3" />
<polygon points="562.4,493.7 576.4,485.7 576.4,501.7" fill="#2a2a2a"/>
<path d="M480.4 501.6 V487.07 L477.6 489.67" fill="none" stroke="#2a2a2a" stroke-width="1.65" stroke-linejoin="miter"/><text x="488.66" y="501.6" font-size="21.5" fill="#2a2a2a" stroke="#fff" stroke-width="0.45" transform="matrix(1.22 0 0 1 -108.82 0)">7</text>
</svg>
</body></html>
